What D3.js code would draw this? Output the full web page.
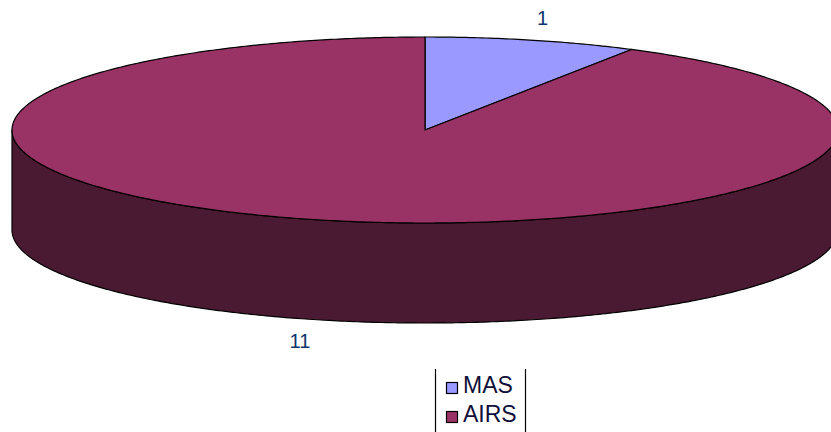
<!DOCTYPE html>
<html>
<head>
<meta charset="utf-8">
<script src="https://cdn.jsdelivr.net/npm/d3@7"></script>
<style>
  html, body { margin: 0; padding: 0; background: #ffffff; }
  svg { display: block; }
</style>
</head>
<body>
<svg id="chart" width="831" height="432"></svg>
<script>
// Pie data
const categories = ["MAS", "AIRS"];
const values = [1, 11];
const topColors = ["#9999FF", "#993366"];
const sideColors = ["#4C4C80", "#4A1A33"];

const W = 831, H = 432;
const cx = 425, cy = 130, rx = 413, ry = 93, depth = 100;

const svg = d3.select("#chart");

// unit-circle coordinates -> pixel coordinates of the tilted disc
const xs = d3.scaleLinear().domain([-1, 1]).range([cx - rx, cx + rx]);
const ys = d3.scaleLinear().domain([-1, 1]).range([cy - ry, cy + ry]);

const px = a => xs(Math.sin(a));
const py = a => ys(-Math.cos(a));

const pie = d3.pie().sort(null).value(d => d.value);
const arcs = pie(categories.map((c, i) => ({ name: c, value: values[i], i })));

const line = d3.line();

function rim(a0, a1, dy) {
  const n = Math.max(2, Math.ceil((a1 - a0) / 0.01));
  return d3.range(n + 1).map(k => {
    const a = a0 + (a1 - a0) * k / n;
    return [px(a), py(a) + dy];
  });
}

// side walls: only the front half of the disc is visible
const gSide = svg.append("g");
arcs.forEach(d => {
  const a0 = Math.max(d.startAngle, Math.PI / 2);
  const a1 = Math.min(d.endAngle, 3 * Math.PI / 2);
  if (a1 <= a0) return;
  const pts = rim(a0, a1, 0).concat(rim(a0, a1, depth).reverse());
  gSide.append("path")
    .attr("d", line(pts) + "Z")
    .attr("fill", sideColors[d.data.i])
    .attr("stroke", "#000")
    .attr("stroke-width", 1.2)
    .attr("stroke-linejoin", "round");
});

// top faces
const gTop = svg.append("g");
arcs.forEach(d => {
  const pts = [[cx, cy]].concat(rim(d.startAngle, d.endAngle, 0));
  gTop.append("path")
    .attr("d", line(pts) + "Z")
    .attr("fill", topColors[d.data.i])
    .attr("stroke", "#000")
    .attr("stroke-width", 1.2)
    .attr("stroke-linejoin", "round");
});

// value labels, placed just outside the rim at each slice's mid angle
const gLab = svg.append("g")
  .attr("font-family", "Liberation Sans, Arial, sans-serif")
  .attr("font-size", 20)
  .attr("fill", "#0f356b")
  .attr("text-anchor", "middle");
arcs.forEach(d => {
  const mid = (d.startAngle + d.endAngle) / 2;
  const front = Math.cos(mid) < 0;
  const x = cx + rx * (front ? 1.17 : 1.1) * Math.sin(mid);
  const y = py(mid) + (front ? depth + 28 : -15);
  gLab.append("text").attr("x", x).attr("y", y).text(d.data.value);
});

// legend
const lg = svg.append("g");
lg.append("line").attr("x1", 435.5).attr("x2", 435.5).attr("y1", 369).attr("y2", H)
  .attr("stroke", "#000").attr("stroke-width", 1.2);
lg.append("line").attr("x1", 525.5).attr("x2", 525.5).attr("y1", 369).attr("y2", H)
  .attr("stroke", "#000").attr("stroke-width", 1.2);
const legY = d3.scaleBand().domain(categories).range([374, 432]);
categories.forEach((c, i) => {
  const y0 = legY(c);
  lg.append("rect")
    .attr("x", 446.5).attr("y", y0 + 8.5)
    .attr("width", 11).attr("height", 11)
    .attr("fill", topColors[i]).attr("stroke", "#000").attr("stroke-width", 1.2);
  lg.append("text")
    .attr("x", 463).attr("y", y0 + 18.5)
    .attr("font-family", "Liberation Sans, Arial, sans-serif")
    .attr("font-size", 23)
    .attr("fill", "#10103a")
    .text(c);
});
</script>
</body>
</html>
